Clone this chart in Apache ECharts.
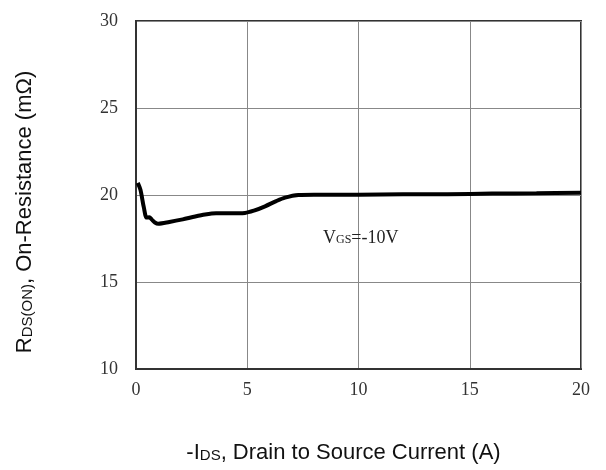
<!DOCTYPE html>
<html><head><meta charset="utf-8">
<script src="https://cdn.jsdelivr.net/npm/echarts@6/dist/echarts.min.js"></script>
<style>html,body{margin:0;padding:0;background:#fff}#c{width:606px;height:470px}</style>
</head><body><div id="c"></div>
<script>
const xTicks = [0, 5, 10, 15, 20];
const yTicks = [10, 15, 20, 25, 30];
const currentA = [0.08,0.2,0.35,0.48,0.6,0.7,0.85,1.0,1.5,2.1,2.6,3.1,3.6,4.2,4.9,5.3,5.8,6.3,6.7,7.3,8,10,12,14,16,18,20];
const rdsOn = [20.7,20.3,19.3,18.7,18.72,18.6,18.42,18.35,18.45,18.6,18.75,18.88,18.95,18.95,18.97,19.1,19.35,19.65,19.85,20.0,20.02,20.02,20.04,20.05,20.08,20.1,20.13];
const curveLabel = {x: 10.1, y: 17.5};

const chart = echarts.init(document.getElementById('c'), null, {renderer:'canvas'});
const serif = '"Liberation Serif", "DejaVu Serif", serif';
const sans = '"Liberation Sans", Arial, sans-serif';
chart.setOption({
  animation:false,
  grid:{left:136,right:25,top:21,bottom:101,show:true,borderColor:'#333',borderWidth:2,backgroundColor:'transparent'},
  xAxis:{type:'value',min:xTicks[0],max:xTicks[xTicks.length-1],interval:5,
    axisLine:{show:true,lineStyle:{color:'#333',width:2}},axisTick:{show:false},
    axisLabel:{fontFamily:serif,fontSize:18,color:'#333',margin:12},
    splitLine:{show:true,lineStyle:{color:'#888',width:1}},
    name:'{a|-I}{b|DS}{a|, Drain to Source Current (A)}',nameLocation:'middle',nameGap:73,
    nameTextStyle:{padding:[0,30,0,0],rich:{a:{fontFamily:sans,fontSize:22,color:'#111'},b:{fontFamily:sans,fontSize:15,color:'#111',padding:[6,0,0,0]}}}
  },
  yAxis:{type:'value',min:yTicks[0],max:yTicks[yTicks.length-1],interval:5,
    axisLine:{show:true,lineStyle:{color:'#333',width:2}},axisTick:{show:false},
    axisLabel:{fontFamily:serif,fontSize:18,color:'#333',margin:18},
    splitLine:{show:true,lineStyle:{color:'#888',width:1}},
    name:'{a|R}{b|DS(ON)}{a|, On-Resistance (mΩ)}',nameLocation:'middle',nameGap:100,
    nameTextStyle:{padding:[0,34,0,0],rich:{a:{fontFamily:sans,fontSize:22,color:'#111'},b:{fontFamily:sans,fontSize:15,color:'#111',padding:[6,0,0,0]}}}
  },
  series:[{type:'line',data:currentA.map((x,i)=>[x,rdsOn[i]]),showSymbol:false,smooth:0.3,
    lineStyle:{color:'#000',width:4},
    markPoint:{symbol:'circle',symbolSize:0,data:[{coord:[curveLabel.x,curveLabel.y],
      label:{show:true,position:'inside',formatter:'{a|V}{b|GS}{a|=-10V}',
        rich:{a:{fontFamily:serif,fontSize:18,color:'#222'},b:{fontFamily:serif,fontSize:12,color:'#222',padding:[3,0,0,0]}}}}]}
  }]
});
</script></body></html>
